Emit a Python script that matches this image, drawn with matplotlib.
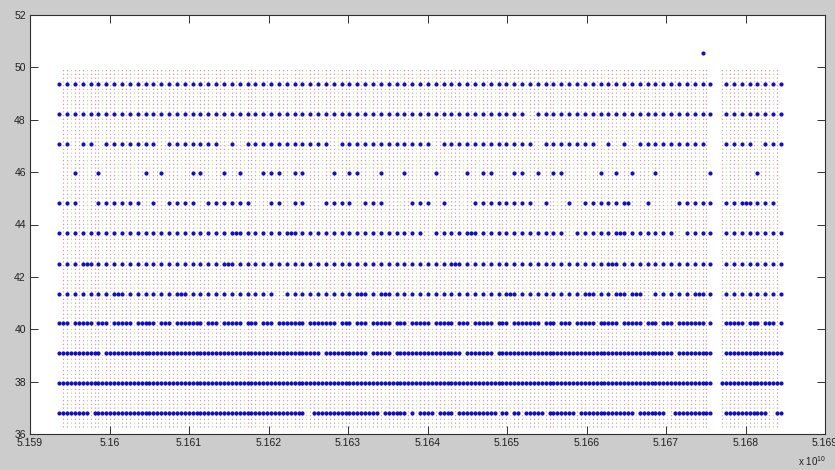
import numpy as np
import matplotlib
matplotlib.use('Agg')
import matplotlib.pyplot as plt

plt.rcParams['font.family'] = ['Liberation Sans', 'DejaVu Sans']
plt.rcParams['mathtext.fontset'] = 'custom'
plt.rcParams['mathtext.rm'] = 'Liberation Sans'

## SAMPLE GRID (x axis in units of 1e10), one slot every half sample step
t_start = 5.1593677
t_half = 0.00004934

## LEVELS OF THE DOT ROWS
levels = [49.35, 48.22, 47.08, 45.95, 44.81, 43.66, 42.50, 41.36, 40.22, 39.08, 37.94, 36.79]

## which full steps (93) carry a dot, 'o' = dot
full_rows = [
    "oooooooooo oooooooooo oooooooooo oooooooooo oooooooooo oooooooooo oooooooooo oooooooooo oooo.ooooo ooo",
    "oooooooooo oooooooooo oooooooooo oooooooooo oooooooooo oooooooooo .ooooooooo oooooooooo oooo.ooooo ooo",
    "oo.oo.oooo ooo.oooooo o.o.oooooo ooooo.oooo oooooooo.o oooooooooo o.ooooooo. o.o.oooooo ooo..oooo. ooo",
    "..o..o.... .o.o...oo. .o.o..ooo. oo...o.oo. .o..o...o. ..o.oo..oo .o.oo....o .o.o..o... ...o.....o ...",
    "ooo..ooooo o.o.oooo.o ooooo..oo. oo..oooo.o oo...ooo.o ...ooooooo o.o..o.ooo ooo..o...o oooo.ooooo oo.",
    "oooooooooo oooooooooo oooooooooo oooooooooo ooooooo.oo oooooooooo ooooo.oooo ooooooooo. oooo.ooooo ooo",
    "oooooooooo oooooooooo oooooooooo oooooooooo oooooooooo oooooooooo oooooooooo oooooooooo oooo.ooooo ooo",
    "oooooooooo oooooooooo oooooooo.o oooooooooo oooooooooo oooooooooo oooooooooo ooooo.oooo oooo.ooooo ooo",
    "oooooooooo oooooooooo oooooooooo oooooooooo oooooooooo oooooooooo oooooooooo oooooooooo oooo.ooooo ooo",
    "oooooooooo oooooooooo oooooooooo oooooooooo oooooooooo oooooooooo oooooooooo oooooooooo oooo.ooooo ooo",
    "oooooooooo oooooooooo oooooooooo oooooooooo oooooooooo oooooooooo oooooooooo oooooooooo oooo.ooooo ooo",
    "oooo.ooooo oooooooooo oooooooooo oo.ooooooo o.oooooo.o oooooo.oo. oo.ooo.ooo oooooooo.o oooo.ooooo o.o",
]

## which half steps (92) carry a dot
half_rows = [
    "",
    "",
    "",
    "",
    ".......... .......... .......... .......... .......... .......... .......... ..o....... .......o.. ..",
    ".......... .......... ..o......o .......... .......... ..o....... .......... .o........ .......... ..",
    "...o...... .......... .o........ .......... .......... o......... .......... o......... .......... ..",
    ".......o.. .....o.... .......... ........o. .o........ .......o.. .......o.. .o.o...... .o........ ..",
    "o.oo.o.oo. oo.o.ooo.o .oo.o.o.oo o.ooo.o.o. oo.o.oo.oo .o.oo.o.oo o.o.o.oo.o o.oo.o.o.o oo...oo.o. o.",
    "ooooo.oooo oooooooooo oooooooooo ooo.ooooo. oo.ooooooo o.ooo.oooo oooooooooo oooooooo.o ooo..ooooo oo",
    "oooooooooo oooooooooo oooooooooo oooooooooo oooooooooo oooooooooo oooooooooo oooooooooo ooo.oooooo oo",
    "oooooooooo oooooooooo oooooooooo o.oooooooo oooo..oooo .oooooo.oo oooooooooo ooo.ooo.oo ooo..ooooo .o",
]

## the lone high reading
outlier_slot = 164
outlier_value = 50.55

## half-step slots that carry a dotted vertical line
line_slots = list(range(1, 166)) + list(range(169, 184))
line_bottom = 36.25
line_top = 50.0

x_ticks = [5.159, 5.160, 5.161, 5.162, 5.163, 5.164, 5.165, 5.166, 5.167, 5.168, 5.169]
y_ticks = [36, 38, 40, 42, 44, 46, 48, 50, 52]

fig = plt.figure(figsize=(8.35, 4.70), dpi=100, facecolor='#cccccc')
ax = fig.add_axes([30 / 835, 36 / 470, 795 / 835, 419 / 470])
ax.set_facecolor('white')

# dotted vertical lines
line_x = [t_start + j * t_half for j in line_slots]
line_colors = ['#d49a9a', '#b8b0a8', '#d8d098', '#c0a0a8']
ax.vlines(line_x, line_bottom, line_top,
          colors=[line_colors[k % len(line_colors)] for k in range(len(line_x))],
          linestyles=[(0, (1, 2))], linewidth=0.9, zorder=1)

# dot rows
dot_color = '#1010c0'
for level, full, half in zip(levels, full_rows, half_rows):
    full = full.replace(' ', '')
    half = half.replace(' ', '')
    slots = [2 * i for i, c in enumerate(full) if c == 'o']
    slots += [2 * k + 1 for k, c in enumerate(half) if c == 'o']
    xs = [t_start + j * t_half for j in sorted(slots)]
    ax.plot(xs, [level] * len(xs), 'o', color=dot_color, markersize=3.0,
            markeredgewidth=0, zorder=3)

ax.plot([t_start + outlier_slot * t_half], [outlier_value], 'o', color=dot_color,
        markersize=3.0, markeredgewidth=0, zorder=3)

ax.set_xlim(x_ticks[0], x_ticks[-1])
ax.set_ylim(y_ticks[0], y_ticks[-1])
ax.set_xticks(x_ticks)
ax.set_xticklabels(['%g' % v for v in x_ticks])
ax.set_yticks(y_ticks)
ax.set_yticklabels(['%g' % v for v in y_ticks])

ax.tick_params(direction='in', length=6, width=0.7, color='#303030',
               labelsize=7.5, labelcolor='#202020', top=True, right=True, pad=3)
for s in ax.spines.values():
    s.set_color('#303030')
    s.set_linewidth(0.8)

fig.text(798 / 835, 4 / 470, r'x 10$^{10}$', fontsize=7, color='#202020',
         ha='left', va='baseline')

fig.savefig('out.png', dpi=100, facecolor=fig.get_facecolor())
